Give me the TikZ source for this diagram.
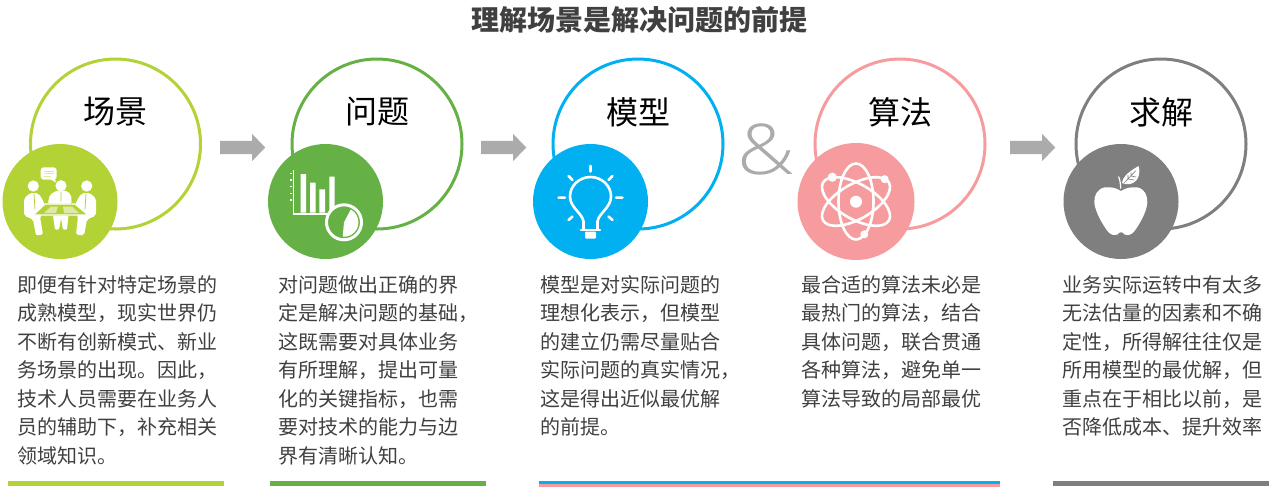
\documentclass[tikz,border=0pt]{standalone}
\usepackage{fontspec}
\setmainfont{Noto Sans CJK SC}
\newfontfamily\ampfont{Open Sans Light}
\usetikzlibrary{shapes.arrows}

\definecolor{lime}{HTML}{B2D235}
\definecolor{leaf}{HTML}{66B146}
\definecolor{sky}{HTML}{00B0F0}
\definecolor{rose}{HTML}{F69C9F}
\definecolor{slate}{HTML}{7F7F7F}
\definecolor{arrowgray}{HTML}{ABABAB}
\definecolor{bodytext}{HTML}{404040}

\tikzset{
	ring/.style={circle, draw, line width=3pt, fill=white, inner sep=0pt, minimum size=170pt},
	disc/.style={circle, inner sep=0pt, minimum size=115pt},
	head/.style={inner sep=0pt, font=\fontsize{32}{36}\selectfont},
	para/.style={anchor=north west, align=left, inner sep=0pt, text=bodytext, font=\fontsize{20}{28.5}\selectfont},
	nextarrow/.style={single arrow, fill=arrowgray, inner xsep=0pt, inner ysep=6.5pt, minimum height=45pt, single arrow head extend=7pt, single arrow tip angle=92},
	bar/.style={minimum width=216pt, minimum height=5pt, inner sep=0pt},
	ico/.style={draw=white, line width=2.6pt, line cap=round, line join=round}
}

\begin{document}
\begin{tikzpicture}[x=1pt,y=-1pt]
	\useasboundingbox (0,0) rectangle (1278,491);

	% title
	\node[inner sep=0pt, text=bodytext, font=\fontsize{28}{32}\selectfont\bfseries] (title) at (639.5,19.5) {理解场景是解决问题的前提};

	% rings
	\node[ring, draw=lime] (scene) at (115.5,144) {};
	\node[ring, draw=leaf] (problem) at (377,144) {};
	\node[ring, draw=sky] (model) at (638,144) {};
	\node[ring, draw=rose] (algo) at (900,144) {};
	\node[ring, draw=slate] (solve) at (1161,144) {};

	\node[head] (tscene) at (115.5,112) {场景};
	\node[head] (tproblem) at (377,112) {问题};
	\node[head] (tmodel) at (638,112) {模型};
	\node[head] (talgo) at (900,112) {算法};
	\node[head] (tsolve) at (1161,112) {求解};

	% discs
	\node[disc, fill=lime] (dscene) at (60,201.5) {};
	\node[disc, fill=leaf] (dproblem) at (325.5,201.5) {};
	\node[disc, fill=sky] (dmodel) at (590.5,201.5) {};
	\node[disc, fill=rose, minimum size=117pt] (dalgo) at (856,201.5) {};
	\node[disc, fill=slate] (dsolve) at (1121,201.5) {};

	% arrows and the ampersand
	\node[nextarrow] (a1) at (239.5,147.5) {};
	\node[nextarrow] (a2) at (500.5,147.5) {};
	\node[nextarrow] (a3) at (1029.5,147.5) {};
	\node[inner sep=0pt, text=arrowgray, xscale=1.15, font=\fontsize{70}{74}\ampfont] (amp) at (766.5,149) {\&};

	% meeting icon
	\begin{scope}[shift={(60,201.5)}]
		\fill[white] (-26.7,-15.5) circle[radius=5.6pt] (1,-15.8) circle[radius=5.6pt] (26.7,-15.5) circle[radius=5.6pt];
		\fill[white, rounded corners=2pt] (-36,14) -- (-36,-3) -- (-30,-8.5) -- (-22,-8.5) -- (-18,-3) -- (-14,6) -- (-20,15) -- (-17,33) -- (-24,34) -- (-27,18) -- cycle;
		\fill[white, rounded corners=2pt] (36,14) -- (36,-3) -- (30,-8.5) -- (22,-8.5) -- (18,-3) -- (14,6) -- (18,15) -- (16,33) -- (24,34) -- (27,18) -- cycle;
		\fill[white, rounded corners=2pt] (-12.3,2) -- (-10,-7) -- (-3,-11) -- (6,-11) -- (11,-7) -- (11.7,2) -- cycle;
		\fill[white, rounded corners=1pt] (-7,14) -- (8.5,14) -- (7,28) -- (3,28) -- (1,17) -- (-1,28) -- (-5,28) -- cycle;
		\draw[lime, line width=0.8pt] (-26,-8) -- (-25,8) (1,-10) -- (1,0) (26,-8) -- (25,8);
		\draw[white, line width=1.2pt, fill=lime, line join=round] (-26.7,13.5) -- (-15,2.5) -- (15,2.5) -- (28.3,13.5) -- cycle;
		\fill[white, opacity=.55] (-16,11.5) -- (-9,5) -- (-2,5) -- (-4,11.5) -- cycle (4,11.5) -- (3,5) -- (12,5) -- (19,11.5) -- cycle;
		\fill[white, rounded corners=3pt] (-19.3,-34.2) rectangle (-3.3,-21.8);
		\fill[white] (-10,-22.5) -- (-5,-22.5) -- (-4,-19) -- cycle;
		\draw[lime!45!white, line width=0.7pt] (-16,-30.5) -- (-6.5,-30.5) (-16,-28) -- (-6.5,-28) (-16,-25.5) -- (-9,-25.5);
	\end{scope}

	% chart icon
	\begin{scope}[shift={(325.5,201.5)}]
		\draw[white, line width=1.3pt] (-32,-31.5) -- (-32,12.5) -- (8,12.5);
		\draw[white, line width=1.3pt] (-35.5,-28.2) -- (-33.5,-28.2) (-35.5,-21.5) -- (-33.5,-21.5) (-35.5,-14.8) -- (-33.5,-14.8) (-35.5,-8.2) -- (-33.5,-8.2) (-35.5,-1.5) -- (-33.5,-1.5);
		\fill[white] (-24.8,-27.5) rectangle (-19.5,11.2) (-15.5,-18.8) rectangle (-9.8,11.2) (-6.2,-12.2) rectangle (-0.5,11.2) (3.8,-24.8) rectangle (9.2,11.2);
		\draw[white, line width=3pt, fill=leaf] (18.5,20.8) circle[radius=17.5pt];
		\fill[white] (18.5,20.8) -- (17.2,35.2) arc[start angle=-95, end angle=62, radius=14.5pt] -- cycle;
	\end{scope}

	% bulb icon
	\begin{scope}[shift={(590.5,201.5)}]
		\draw[ico] (-7,27.5) -- (-7,20) .. controls (-8,12) and (-20.5,6) .. (-20.5,-5) .. controls (-20.5,-16) and (-11,-24.5) .. (0,-24.5) .. controls (11,-24.5) and (20.5,-16) .. (20.5,-5) .. controls (20.5,6) and (8,12) .. (7,20) -- (7,27.5);
		\draw[ico] (-9.5,28.5) -- (9.5,28.5);
		\fill[white, rounded corners=1pt] (-5.5,30) rectangle (5.5,37);
		\draw[ico] (0,-35.5) -- (0,-30) (-22,-25.5) -- (-18,-21.5) (22,-25.5) -- (18,-21.5) (-32,-3.9) -- (-25.5,-3.9) (32,-3.9) -- (25.5,-3.9) (-22,18.5) -- (-18,15) (22,18.5) -- (18,15);
	\end{scope}

	% atom icon
	\begin{scope}[shift={(856,201.5)}]
		\draw[white, line width=2.6pt] (0,0) ellipse[x radius=17.5pt, y radius=38pt];
		\draw[white, line width=2.6pt, rotate=60] (0,0) ellipse[x radius=17.5pt, y radius=38pt];
		\draw[white, line width=2.6pt, rotate=-60] (0,0) ellipse[x radius=17.5pt, y radius=38pt];
		\fill[white] (0,0.2) circle[radius=6pt] (-23.7,-24.3) circle[radius=4.6pt] (28.7,-22.3) circle[radius=4pt] (8.3,32.8) circle[radius=4pt];
	\end{scope}

	% apple icon
	\begin{scope}[shift={(1121,201.5)}]
		\fill[white] (0,-10.5) .. controls (-6,-14.5) and (-12,-14.5) .. (-17,-14) .. controls (-24,-12) and (-27,-6) .. (-26.7,1) .. controls (-26,10) and (-18,24) .. (-12.7,30.5) .. controls (-10,33.5) and (-7,34) .. (-3.5,33) .. controls (-2,30) and (2,30) .. (3.5,33) .. controls (7,34) and (10,33.5) .. (12.7,30.5) .. controls (18,24) and (26,10) .. (26.3,1) .. controls (26.5,-6) and (24,-12) .. (17,-14) .. controls (12,-14.5) and (6,-14.5) .. (0,-10.5) -- cycle;
		\draw[white, line width=1.2pt] (-0.3,-13) .. controls (-0.5,-18) and (-1,-22) .. (-2.5,-25);
		\fill[white] (1,-18.5) .. controls (2,-26) and (10,-31) .. (17.5,-35.5) .. controls (20,-28) and (17,-19) .. (9,-17.5) .. controls (6,-17) and (3,-17.5) .. (1,-18.5) -- cycle;
		\draw[slate, line width=0.6pt] (3,-18.5) -- (15,-31) (7,-22.5) -- (7,-26.5) (10,-25.5) -- (10,-29) (7,-22.5) -- (13,-21.5) (10,-25.5) -- (15,-24.5);
	\end{scope}

	% texts
	\node[para] (pscene) at (17,275) {即便有针对特定场景的\\成熟模型，现实世界仍\\不断有创新模式、新业\\务场景的出现。因此，\\技术人员需要在业务人\\员的辅助下，补充相关\\领域知识。};
	\node[para] (pproblem) at (278,275) {对问题做出正确的界\\定是解决问题的基础，\\这既需要对具体业务\\有所理解，提出可量\\化的关键指标，也需\\要对技术的能力与边\\界有清晰认知。};
	\node[para] (pmodel) at (540,275) {模型是对实际问题的\\理想化表示，但模型\\的建立仍需尽量贴合\\实际问题的真实情况，\\这是得出近似最优解\\的前提。};
	\node[para] (palgo) at (801,275) {最合适的算法未必是\\最热门的算法，结合\\具体问题，联合贯通\\各种算法，避免单一\\算法导致的局部最优};
	\node[para] (psolve) at (1062,275) {业务实际运转中有太多\\无法估量的因素和不确\\定性，所得解往往仅是\\所用模型的最优解，但\\重点在于相比以前，是\\否降低成本、提升效率};

	% bars
	\node[bar, fill=lime] (b1) at (116,483.5) {};
	\node[bar, fill=leaf] (b2) at (378,483.5) {};
	\node[bar, fill=rose, minimum width=461pt, minimum height=6pt] (b3) at (769.5,484) {};
	\node[bar, fill=sky, minimum width=461pt, minimum height=3pt] (b4) at (769.5,482.5) {};
	\node[bar, fill=slate] (b5) at (1161,483.5) {};
\end{tikzpicture}
\end{document}
